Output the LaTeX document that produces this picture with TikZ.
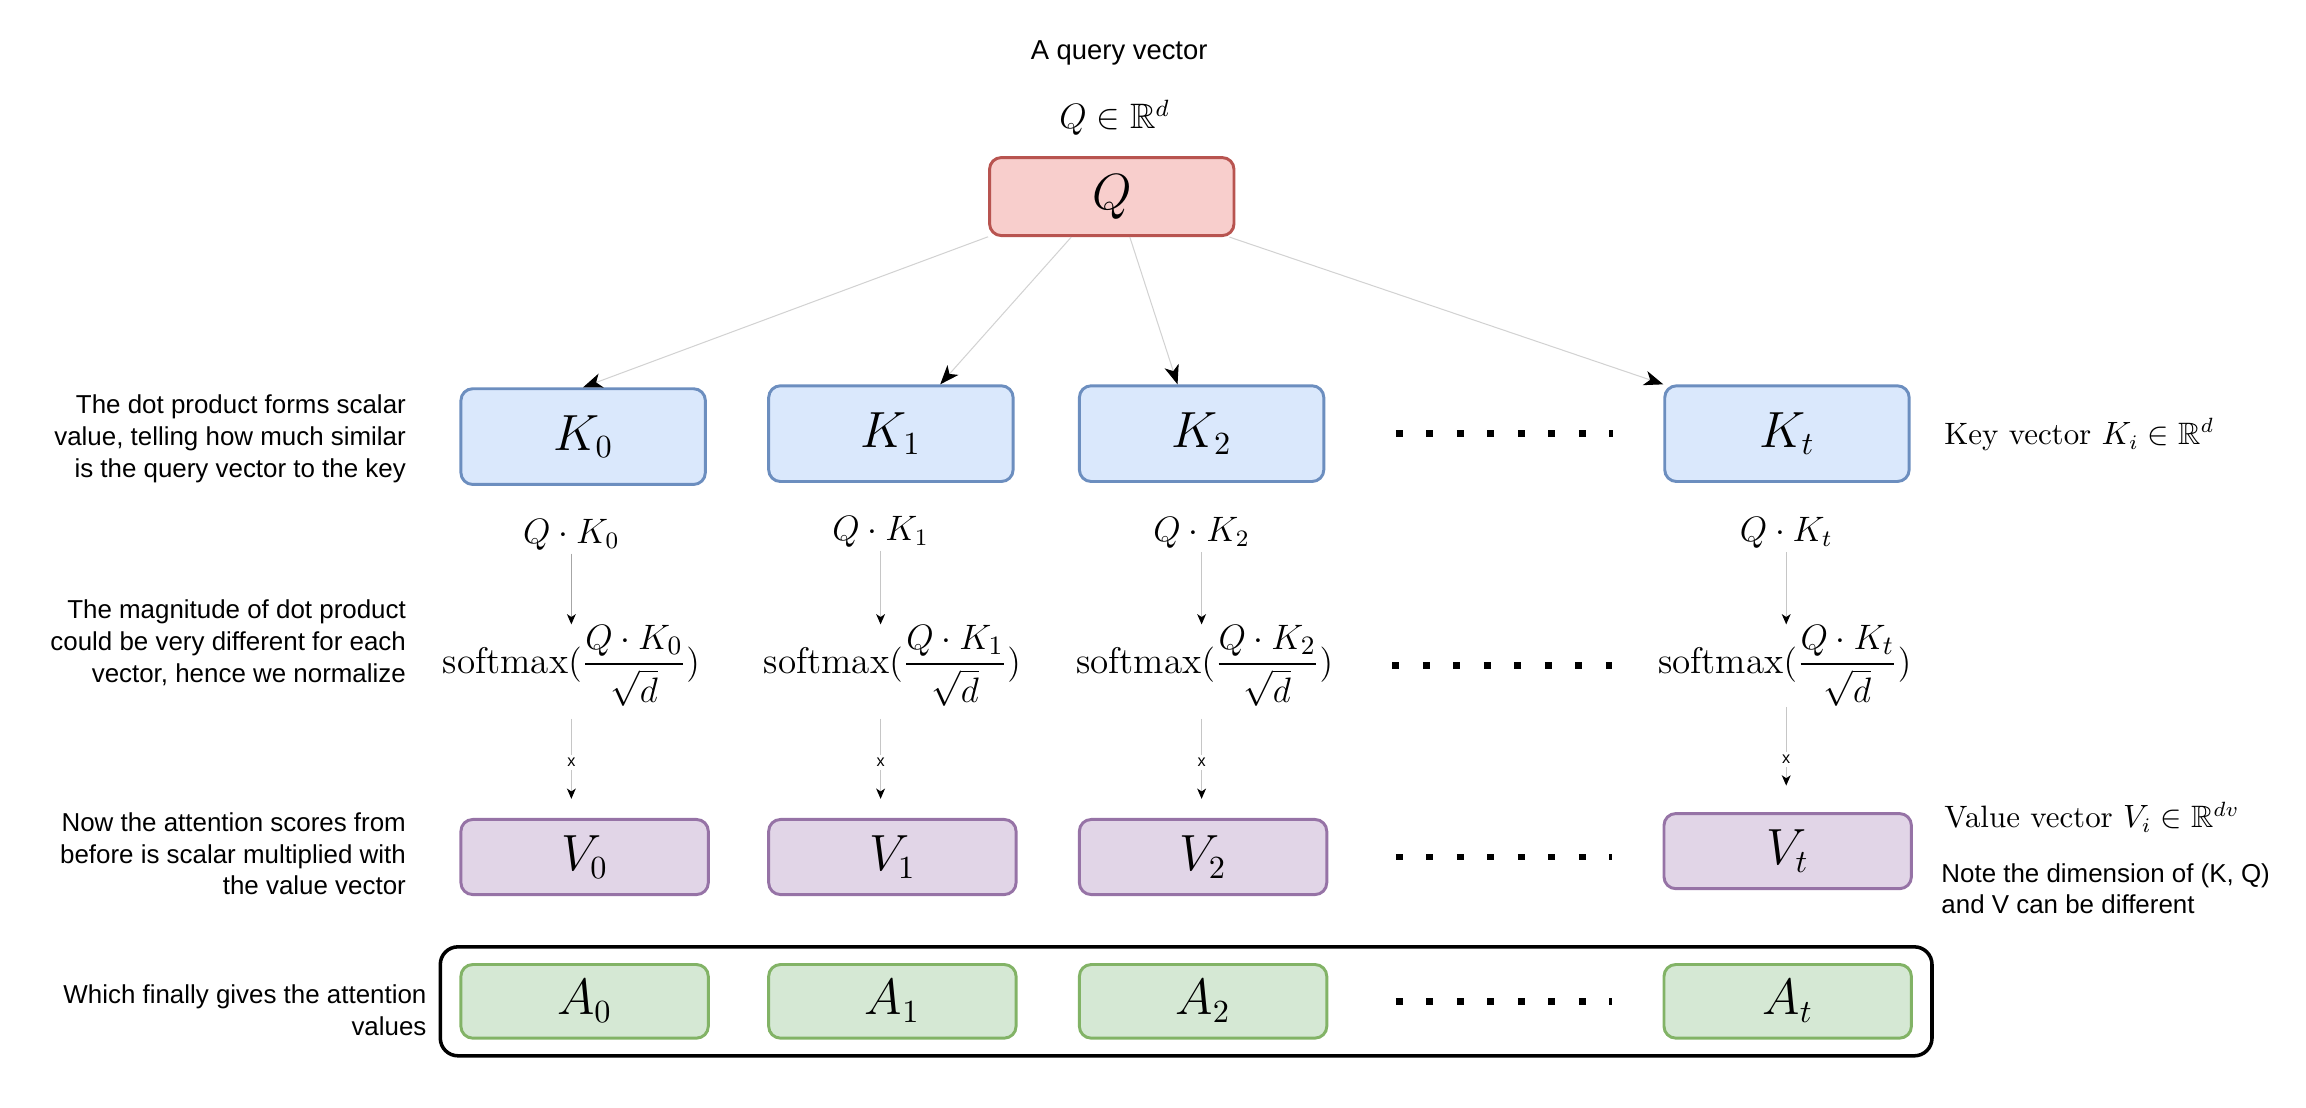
\documentclass[tikz,border=0pt]{standalone}
\usepackage{amsmath,amssymb}
\usepackage{fontspec}
\newfontfamily\helv{Liberation Sans}
\usetikzlibrary{arrows.meta,fit}

\definecolor{qfill}{HTML}{F8CECC}\definecolor{qline}{HTML}{B85450}
\definecolor{kfill}{HTML}{DAE8FC}\definecolor{kline}{HTML}{6C8EBF}
\definecolor{vfill}{HTML}{E1D5E7}\definecolor{vline}{HTML}{9673A6}
\definecolor{afill}{HTML}{D5E8D4}\definecolor{aline}{HTML}{82B366}

\begin{document}
\begin{tikzpicture}[x=0.5pt,y=-0.5pt,
box/.style={draw, rounded corners=4pt, line width=1pt, minimum width=83pt, font=\fontsize{16}{19}\selectfont},
qbox/.style={box, fill=qfill, draw=qline, minimum height=26.5pt},
kbox/.style={box, fill=kfill, draw=kline, minimum height=32.5pt},
vbox/.style={box, fill=vfill, draw=vline, minimum width=84pt, minimum height=25.5pt},
abox/.style={box, fill=afill, draw=aline, minimum width=84pt, minimum height=25pt},
lbl/.style={font=\fontsize{12}{14}\selectfont, inner sep=1pt},
dimlbl/.style={font=\fontsize{10.5}{13}\selectfont, inner sep=1pt},
smx/.style={font=\fontsize{12.6}{15}\selectfont, inner sep=0pt},
note/.style={font=\helv\fontsize{8.8}{10.75}\selectfont, align=right, inner sep=0pt},
xlbl/.style={fill=white, font=\helv\fontsize{5.5}{6}\selectfont, inner sep=1pt},
qarr/.style={draw=gray!35, line width=0.35pt, -{Stealth[length=6.5pt,width=5pt,inset=1.8pt,color=black]}},
sarr/.style={draw=gray!45, line width=0.4pt, -{Stealth[length=3.5pt,width=3pt,inset=1pt,color=black]}},
dotrow/.style={line width=2.25pt, dash pattern=on 2.25pt off 8.1pt}]
\useasboundingbox (0,0) rectangle (1566,752.4);

% query
\node[note, font=\helv\fontsize{9.3}{11}\selectfont] (qtxt) at (760,36) {A query vector};
\node[lbl] (qdim) at (757,80) {$Q\in\mathbb{R}^d$};
\node[qbox] (Q) at (755,133.5) {$Q$};

% keys
\node[kbox] (K0) at (396,296.5) {$K_0$};
\node[kbox] (K1) at (605,294.5) {$K_1$};
\node[kbox] (K2) at (816,294.5) {$K_2$};
\node[kbox] (Kt) at (1213.5,294.5) {$K_t$};
\draw[dotrow] (K2) -- (Kt) [shorten <=24pt, shorten >=17pt];
\node[dimlbl, anchor=west] (kdim) at (1318,295) {Key vector $K_i\in\mathbb{R}^d$};

\draw[qarr] (Q.198) -- (K0.north);
\draw[qarr] (Q.225) -- (K1.45);
\draw[qarr] (Q.294) -- (K2.116);
\draw[qarr] (Q.341) -- (Kt.north west);

% dot products
\node[lbl] (qk0) at (388,363) {$Q\cdot K_0$};
\node[lbl] (qk1) at (598,361) {$Q\cdot K_1$};
\node[lbl] (qk2) at (816,362) {$Q\cdot K_2$};
\node[lbl] (qkt) at (1213,362) {$Q\cdot K_t$};

% softmax
\node[smx] (sm0) at (388,452) {$\mathrm{softmax}(\dfrac{Q\cdot K_0}{\sqrt{d}})$};
\node[smx] (sm1) at (606,452) {$\mathrm{softmax}(\dfrac{Q\cdot K_1}{\sqrt{d}})$};
\node[smx] (sm2) at (818,452) {$\mathrm{softmax}(\dfrac{Q\cdot K_2}{\sqrt{d}})$};
\node[smx] (smt) at (1212,452) {$\mathrm{softmax}(\dfrac{Q\cdot K_t}{\sqrt{d}})$};
\draw[dotrow] (sm2) -- (smt) [shorten <=20pt, shorten >=14pt];

\draw[sarr, draw=gray!70] (qk0) -- (qk0 |- sm0.north);
\draw[sarr] (qk1) -- (qk1 |- sm1.north);
\draw[sarr] (qk2) -- (qk2 |- sm2.north);
\draw[sarr] (qkt) -- (qkt |- smt.north);

% values
\node[vbox] (V0) at (397,582) {$V_0$};
\node[vbox] (V1) at (606,582) {$V_1$};
\node[vbox] (V2) at (817,582) {$V_2$};
\node[vbox] (Vt) at (1214,578) {$V_t$};
\draw[dotrow] (V2.east) -- (V2.east -| Vt.west) [shorten <=23pt, shorten >=17pt];
\node[dimlbl, anchor=west] (vdim) at (1318,555) {Value vector $V_i\in\mathbb{R}^{dv}$};
\node[note, align=left, anchor=north west] (vnote) at (1318,586) {Note the dimension of (K, Q)\\and V can be different};

\draw[sarr, shorten <=4pt, shorten >=6.5pt] (qk0 |- sm0.south) -- (qk0 |- V0.north) node[midway, xlbl] {x};
\draw[sarr, shorten <=4pt, shorten >=6.5pt] (qk1 |- sm1.south) -- (qk1 |- V1.north) node[midway, xlbl] {x};
\draw[sarr, shorten <=4pt, shorten >=6.5pt] (qk2 |- sm2.south) -- (qk2 |- V2.north) node[midway, xlbl] {x};
\draw[sarr, shorten <=0pt, shorten >=9pt] (qkt |- smt.south) -- (qkt |- Vt.north) node[midway, xlbl] {x};

% attention values
\node[abox] (A0) at (397,680) {$A_0$};
\node[abox] (A1) at (606,680) {$A_1$};
\node[abox] (A2) at (817,680) {$A_2$};
\node[abox] (At) at (1214,680) {$A_t$};
\draw[dotrow] (A2) -- (At) [shorten <=23pt, shorten >=17pt];
\node[draw, line width=1.2pt, rounded corners=6pt, inner xsep=6.5pt, inner ysep=5.5pt, fit=(A0)(At)] (attn) {};

% explanations
\node[note, anchor=east] (nkey) at (276,298) {The dot product forms scalar\\value, telling how much similar\\is the query vector to the key};
\node[note, anchor=east] (nsm) at (276,436.5) {The magnitude of dot product\\could be very different for each\\vector, hence we normalize};
\node[note, anchor=east] (nval) at (276,580) {Now the attention scores from\\before is scalar multiplied with\\the value vector};
\node[note, anchor=east] (natt) at (290,686) {Which finally gives the attention\\values};
\end{tikzpicture}
\end{document}
